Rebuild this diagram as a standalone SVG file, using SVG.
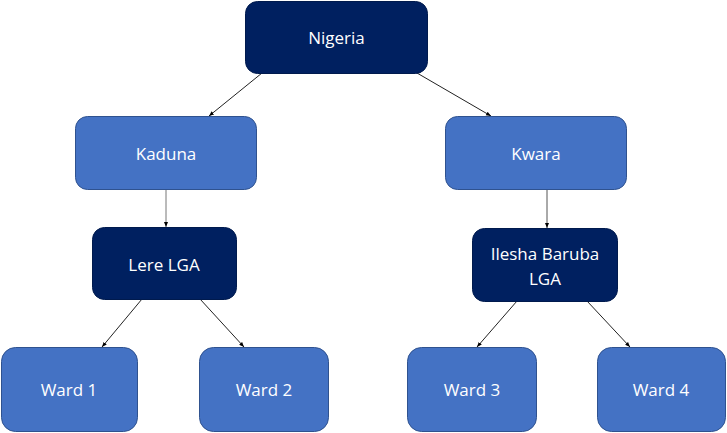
<svg xmlns="http://www.w3.org/2000/svg" width="727" height="433" viewBox="0 0 727 433">
<defs>
<marker id="arr" viewBox="0 0 10 10" refX="10" refY="5" markerWidth="5" markerHeight="5" orient="auto" markerUnits="userSpaceOnUse">
<path d="M0,1 L10,5 L0,9 z" fill="#000"/>
</marker>
<style>
.dark{fill:#002060;stroke:#001a4d;stroke-width:1}
.blue{fill:#4472C4;stroke:#2F528F;stroke-width:1}
.t{font-family:"Open Sans","Liberation Sans",sans-serif;font-size:17px;fill:#fff;text-anchor:middle;dominant-baseline:central}
.c{stroke:#222;stroke-width:1;fill:none;marker-end:url(#arr)}
</style>
</defs>
<rect width="727" height="433" fill="#fff"/>
<g id="connectors">
<line class="c" x1="262" y1="73" x2="209" y2="116"/>
<line class="c" x1="417" y1="73" x2="491" y2="116"/>
<line class="c" x1="166" y1="189" x2="166" y2="227" style="stroke:#777"/>
<line class="c" x1="547" y1="189" x2="547" y2="228" style="stroke:#555"/>
<line class="c" x1="142" y1="299" x2="102" y2="347"/>
<line class="c" x1="200" y1="299" x2="244" y2="347"/>
<line class="c" x1="517" y1="301" x2="477" y2="347"/>
<line class="c" x1="587" y1="301" x2="630" y2="347"/>
</g>
<g id="nigeria"><rect class="dark" x="245.5" y="1.5" width="182" height="72" rx="12"/><text class="t" x="336.5" y="37.5">Nigeria</text></g>
<g id="kaduna"><rect class="blue" x="75.5" y="116.5" width="181" height="73" rx="12"/><text class="t" x="166" y="153">Kaduna</text></g>
<g id="kwara"><rect class="blue" x="445.5" y="116.5" width="181" height="73" rx="12"/><text class="t" x="536" y="153">Kwara</text></g>
<g id="lere"><rect class="dark" x="92.5" y="227.5" width="144" height="72" rx="12"/><text class="t" x="164" y="264">Lere LGA</text></g>
<g id="ilesha"><rect class="dark" x="472.5" y="228.5" width="145" height="73" rx="12"/><text class="t" x="545" y="253">Ilesha Baruba</text><text class="t" x="545" y="278">LGA</text></g>
<g id="ward1"><rect class="blue" x="1.5" y="347.5" width="136" height="84" rx="14"/><text class="t" x="69" y="389">Ward 1</text></g>
<g id="ward2"><rect class="blue" x="199.5" y="347.5" width="129" height="84" rx="14"/><text class="t" x="264" y="389">Ward 2</text></g>
<g id="ward3"><rect class="blue" x="407.5" y="347.5" width="129" height="84" rx="14"/><text class="t" x="472" y="389">Ward 3</text></g>
<g id="ward4"><rect class="blue" x="597.5" y="347.5" width="128" height="84" rx="14"/><text class="t" x="661" y="389">Ward 4</text></g>
</svg>
